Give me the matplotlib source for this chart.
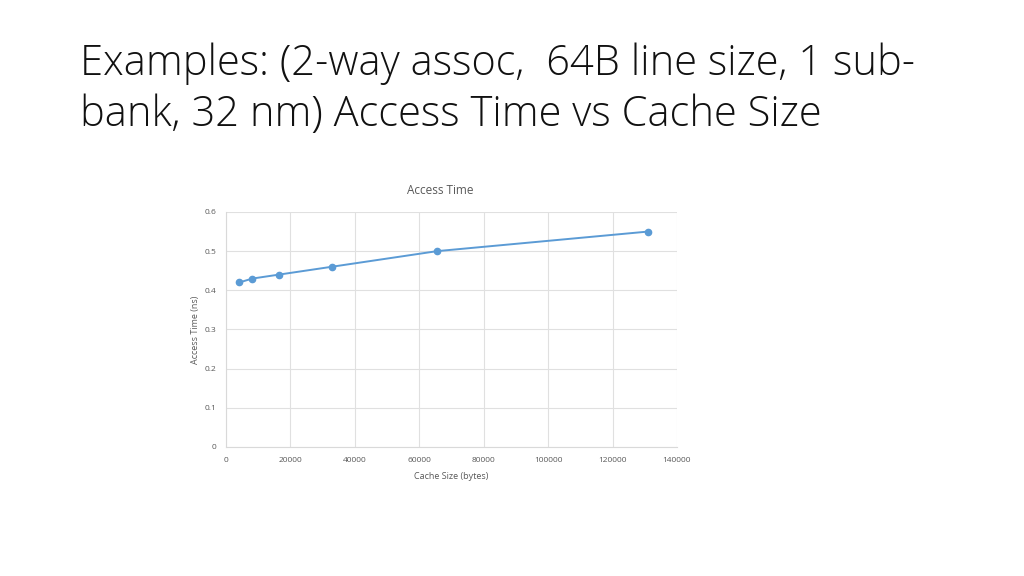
import matplotlib.pyplot as plt
import matplotlib

matplotlib.rcParams['font.family'] = "Open Sans"

# data
cache_size = [4096, 8192, 16384, 32768, 65536, 131072]
access_time = [0.42, 0.43, 0.44, 0.46, 0.50, 0.55]
x_ticks = [0, 20000, 40000, 60000, 80000, 100000, 120000, 140000]
y_ticks = [0, 0.1, 0.2, 0.3, 0.4, 0.5, 0.6]
y_tick_labels = ['0', '0.1', '0.2', '0.3', '0.4', '0.5', '0.6']

slide_title = "Examples: (2-way assoc,  64B line size, 1 sub-\nbank, 32 nm) Access Time vs Cache Size"

fig = plt.figure(figsize=(10.24, 5.76), dpi=100)
fig.text(0.078, 0.926, slide_title, fontsize=30, fontweight='light',
         color='#111111', va='top', ha='left', linespacing=1.26)

ax = fig.add_axes([0.2207, 0.224, 0.4404, 0.408])
ax.plot(cache_size, access_time, color='#5b9bd5', lw=1.4,
        marker='o', markersize=4.5, zorder=3)

ax.set_xlim(0, 140000)
ax.set_ylim(0, 0.6)
ax.set_xticks(x_ticks)
ax.set_xticklabels([str(t) for t in x_ticks])
ax.set_yticks(y_ticks)
ax.set_yticklabels(y_tick_labels)
ax.grid(True, color='#e0e0e0', lw=0.8)
ax.set_axisbelow(True)
for s in ['top', 'right']:
    ax.spines[s].set_visible(False)
for s in ['left', 'bottom']:
    ax.spines[s].set_color('#d9d9d9')
ax.tick_params(length=0, labelsize=6, colors='#595959', pad=7)

fig.text(440 / 1024, 1 - 190 / 576, 'Access Time', fontsize=8.5,
         color='#595959', ha='center', va='center')
ax.set_xlabel('Cache Size (bytes)', fontsize=6.5, color='#595959', labelpad=6)
ax.set_ylabel('Access Time (ns)', fontsize=6.5, color='#595959', labelpad=3)

fig.savefig('out.png', dpi=100)
